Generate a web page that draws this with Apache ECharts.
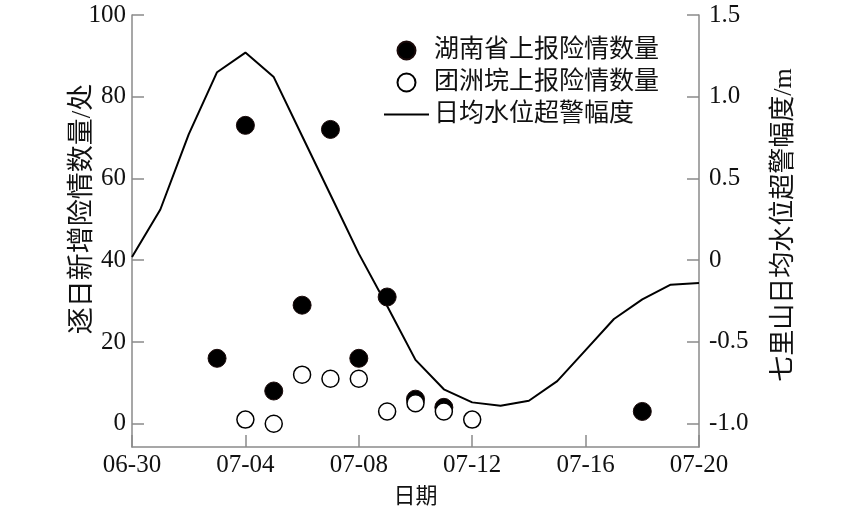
<!DOCTYPE html>
<html>
<head>
<meta charset="utf-8">
<script src="https://cdn.jsdelivr.net/npm/echarts@6/dist/echarts.min.js"></script>
<style>html,body{margin:0;padding:0;background:#fff}#c{width:850px;height:511px}</style>
</head>
<body>
<div id="c"></div>
<script>
// ---- data ----
var xTickLabels = ["06-30","07-04","07-08","07-12","07-16","07-20"];
var leftTicks = [0,20,40,60,80,100];
var rightTicks = [-1.0,-0.5,0,0.5,1.0,1.5];

var hunanDates = ["07-03","07-04","07-05","07-06","07-07","07-08","07-09","07-10","07-11","07-18"];
var hunanCounts = [16,73,8,29,72,16,31,6,4,3];

var tuanzhouDates = ["07-04","07-05","07-06","07-07","07-08","07-09","07-10","07-11","07-12"];
var tuanzhouCounts = [1,0,12,11,11,3,5,3,1];

var levelDates = ["06-30","07-01","07-02","07-03","07-04","07-05","07-06","07-07","07-08","07-09","07-10",
                  "07-11","07-12","07-13","07-14","07-15","07-16","07-17","07-18","07-19","07-20"];
var levelValues = [0.02,0.31,0.77,1.15,1.27,1.12,0.76,0.40,0.04,-0.28,-0.61,
                   -0.79,-0.87,-0.89,-0.86,-0.74,-0.55,-0.36,-0.24,-0.15,-0.14];

// ---- helpers ----
function dayOffset(s){
  var p = s.split("-"), m = +p[0], d = +p[1];
  return m === 6 ? d - 30 : d;
}
function pairs(dates, vals){ return dates.map(function(d,i){ return [dayOffset(d), vals[i]]; }); }

var serifCJK = '"Liberation Serif","Times New Roman","Noto Sans CJK SC",serif';
var axisGrey = '#8a8a8a';
var xTickValues = xTickLabels.map(dayOffset);

var chart = echarts.init(document.getElementById('c'), null, {renderer:'canvas'});
chart.setOption({
  animation:false,
  backgroundColor:'#fff',
  grid:{left:132, right:151, top:15, bottom:64, containLabel:false, outerBoundsMode:'none'},
  legend:{
    left:379, top:33, orient:'vertical',
    itemWidth:45, itemHeight:18, itemGap:7,
    textStyle:{fontFamily:serifCJK, fontSize:25, color:'#111'},
    data:[
      {name:'湖南省上报险情数量'},
      {name:'团洲垸上报险情数量'},
      {name:'日均水位超警幅度', icon:'path://M0,0 H45 V2 H0 Z', itemStyle:{color:'#000'}}
    ]
  },
  xAxis:{
    type:'value', min:0, max:20,
    name:'日期', nameLocation:'middle', nameGap:39, nameMoveOverlap:false,
    nameTextStyle:{fontFamily:serifCJK, fontSize:22, color:'#111'},
    axisLine:{show:true, onZero:false, lineStyle:{color:axisGrey, width:1.5}},
    axisTick:{show:true, inside:true, length:12, lineStyle:{color:axisGrey, width:1.5},
      customValues: xTickValues},
    axisLabel:{fontFamily:serifCJK, fontSize:25, color:'#111', margin:6,
      customValues: xTickValues,
      formatter:function(v){ var i = xTickValues.indexOf(v); return i>=0?xTickLabels[i]:''; }},
    splitLine:{show:false}
  },
  yAxis:[{
    type:'value', min:-5.7, max:100, position:'left',
    name:'逐日新增险情数量/处', nameLocation:'middle', nameGap:36, nameRotate:90, nameMoveOverlap:false,
    nameTextStyle:{fontFamily:serifCJK, fontSize:27, color:'#111', padding:[0,0,0,44]},
    axisLine:{show:true, onZero:false, lineStyle:{color:axisGrey, width:1.5}},
    axisTick:{show:true, inside:true, length:12, lineStyle:{color:axisGrey, width:1.5}, customValues:leftTicks},
    axisLabel:{fontFamily:serifCJK, fontSize:25, color:'#111', margin:6, customValues:leftTicks},
    splitLine:{show:false}
  },{
    type:'value', min:-1.143, max:1.5, position:'right',
    name:'七里山日均水位超警幅度/m', nameLocation:'middle', nameGap:72, nameRotate:90, nameMoveOverlap:false,
    nameTextStyle:{fontFamily:serifCJK, fontSize:26, color:'#111', padding:[0,0,0,12]},
    axisLine:{show:true, onZero:false, lineStyle:{color:axisGrey, width:1.5}},
    axisTick:{show:true, inside:true, length:12, lineStyle:{color:axisGrey, width:1.5}, customValues:rightTicks},
    axisLabel:{fontFamily:serifCJK, fontSize:25, color:'#111', margin:10, customValues:rightTicks,
      formatter:function(v){ return v===0 ? '0' : v.toFixed(1); }},
    splitLine:{show:false}
  }],
  series:[{
    name:'日均水位超警幅度', type:'line', yAxisIndex:1, symbol:'none',
    lineStyle:{color:'#000', width:2}, itemStyle:{color:'#000'},
    data: pairs(levelDates, levelValues), z:2
  },{
    name:'湖南省上报险情数量', type:'scatter', yAxisIndex:0, symbol:'circle', symbolSize:18,
    itemStyle:{color:'#000', borderColor:'#1a0a0a', borderWidth:1, opacity:1},
    data: pairs(hunanDates, hunanCounts), z:3
  },{
    name:'团洲垸上报险情数量', type:'scatter', yAxisIndex:0, symbol:'circle', symbolSize:17,
    itemStyle:{color:'#fff', borderColor:'#000', borderWidth:1.5, opacity:1},
    data: pairs(tuanzhouDates, tuanzhouCounts), z:4
  }]
});
</script>
</body>
</html>
